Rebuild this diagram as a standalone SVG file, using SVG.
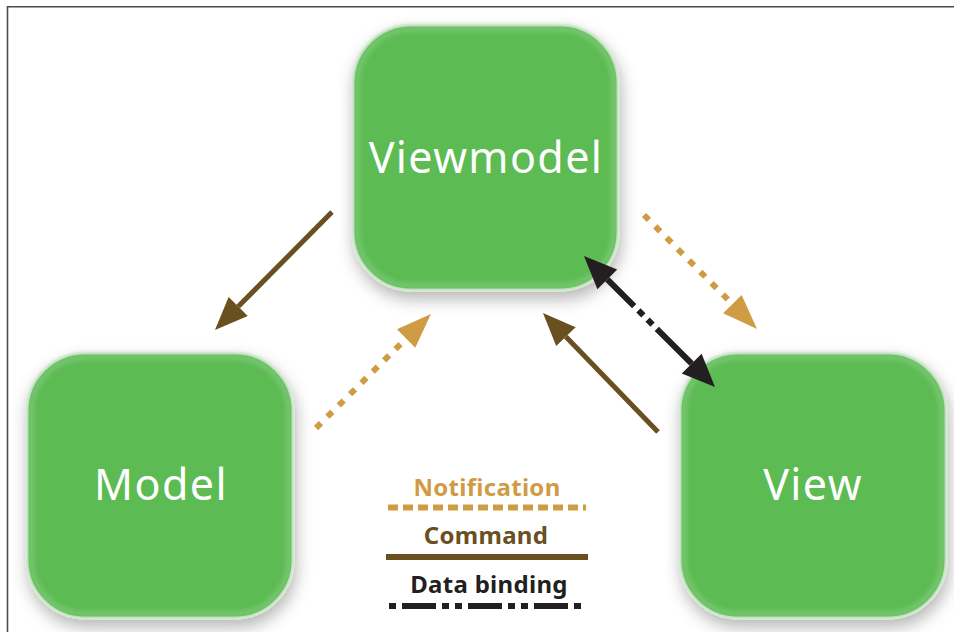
<svg xmlns="http://www.w3.org/2000/svg" width="954" height="632" viewBox="0 0 954 632">
  <style>
    .frame { fill: none; stroke: #4a4a4a; stroke-width: 1.6; }
    .node-shape { fill: #5cbb53; stroke: #eaf0ea; stroke-width: 3; filter: url(#shadow); }
    .node-glow { fill: none; stroke: #7cc874; stroke-width: 5; filter: url(#soft); }
    .node-label { font-family: "Noto Sans", "Open Sans", sans-serif; font-size: 43px; fill: #ffffff; text-anchor: middle; letter-spacing: 1.4px; }
    .command { stroke: #6a4f21; stroke-width: 5; fill: none; }
    .notify { stroke: #cf9c44; stroke-width: 6; fill: none; stroke-dasharray: 7 9; }
    .binding { stroke: #231f20; stroke-width: 6; fill: none; }
    .legend-text { font-family: "Noto Sans", "Open Sans", sans-serif; font-weight: bold; font-size: 24px; text-anchor: middle; letter-spacing: 0.3px; }
  </style>
  <defs>
    <filter id="shadow" x="-20%" y="-20%" width="140%" height="150%">
      <feDropShadow dx="2" dy="8" stdDeviation="8" flood-color="#000" flood-opacity="0.28"/>
    </filter>
    <filter id="soft" x="-10%" y="-10%" width="120%" height="120%">
      <feGaussianBlur stdDeviation="2.5"/>
    </filter>
    <marker id="head-command" markerUnits="userSpaceOnUse" markerWidth="40" markerHeight="30" refX="0" refY="13.5" orient="auto" overflow="visible">
      <path d="M0,0 L33,13.5 L0,27 z" fill="#6a4f21"/>
    </marker>
    <marker id="head-notify" markerUnits="userSpaceOnUse" markerWidth="40" markerHeight="30" refX="0" refY="13" orient="auto" overflow="visible">
      <path d="M0,0 L35,13 L0,26 z" fill="#cf9c44"/>
    </marker>
    <marker id="head-binding" markerUnits="userSpaceOnUse" markerWidth="40" markerHeight="30" refX="0" refY="14" orient="auto-start-reverse" overflow="visible">
      <path d="M0,0 L33,14 L0,28 z" fill="#231f20"/>
    </marker>
  </defs>

  <rect width="954" height="632" fill="#ffffff"/>
  <path class="frame" d="M7.5,640 V6.8 H960"/>

  <!-- nodes -->
  <g id="viewmodel">
    <rect class="node-shape" x="353" y="25" width="265" height="265" rx="58"/>
    <rect class="node-glow" x="357" y="29" width="257" height="257" rx="54"/>
    <text class="node-label" x="486" y="173">Viewmodel</text>
  </g>
  <g id="model">
    <rect class="node-shape" x="27" y="353" width="266" height="265" rx="58"/>
    <rect class="node-glow" x="31" y="357" width="258" height="257" rx="54"/>
    <text class="node-label" x="161" y="500">Model</text>
  </g>
  <g id="view">
    <rect class="node-shape" x="680" y="353" width="266" height="265" rx="58"/>
    <rect class="node-glow" x="684" y="357" width="258" height="257" rx="54"/>
    <text class="node-label" x="813" y="500">View</text>
  </g>

  <!-- connectors, drawn above the nodes so the binding heads overlap them -->
  <g id="connectors">
    <line class="command" x1="332" y1="212" x2="238.2" y2="306.6" marker-end="url(#head-command)"/>
    <line class="command" x1="658" y1="432" x2="565.9" y2="336.7" marker-end="url(#head-command)"/>
    <line class="notify" x1="316" y1="428" x2="406.1" y2="338.6" marker-end="url(#head-notify)"/>
    <line class="notify" x1="644" y1="215" x2="732.4" y2="304.1" marker-end="url(#head-notify)"/>
    <line class="binding" x1="607.3" y1="279.3" x2="691.7" y2="363.7" stroke-dasharray="38 6 7 6 7 6 100" marker-start="url(#head-binding)" marker-end="url(#head-binding)"/>
  </g>

  <!-- legend -->
  <g id="legend">
    <text class="legend-text" x="487" y="496" fill="#cf9c44">Notification</text>
    <line x1="388" y1="507.5" x2="586" y2="507.5" stroke="#cf9c44" stroke-width="6" stroke-dasharray="10 5"/>
    <text class="legend-text" x="486" y="544" fill="#6a4f21">Command</text>
    <line x1="386" y1="557" x2="588" y2="557" stroke="#6a4f21" stroke-width="6"/>
    <text class="legend-text" x="489" y="593" fill="#231f20">Data binding</text>
    <line x1="389" y1="606" x2="586" y2="606" stroke="#231f20" stroke-width="6" stroke-dasharray="34 6 7 6 7 6" stroke-dashoffset="53"/>
  </g>
</svg>
